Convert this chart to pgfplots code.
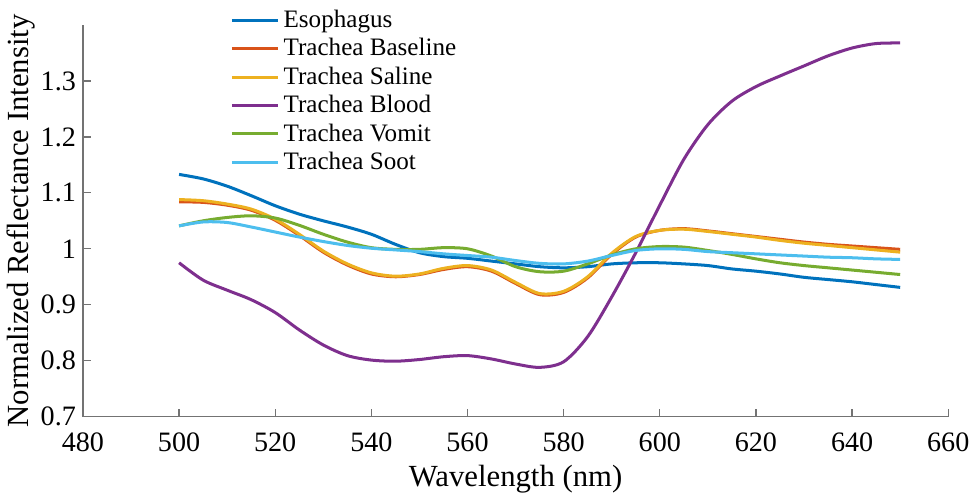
\documentclass[border=0pt]{standalone}
\usepackage{fontspec}
\setmainfont{Liberation Serif}
\usepackage{pgfplots}
\usepackage{pgfplotstable}
\pgfplotsset{compat=1.18}
\definecolor{mblue}{rgb}{0,0.447,0.741}
\definecolor{mred}{rgb}{0.85,0.325,0.098}
\definecolor{myellow}{rgb}{0.929,0.694,0.125}
\definecolor{mpurple}{rgb}{0.494,0.184,0.556}
\definecolor{mgreen}{rgb}{0.466,0.674,0.188}
\definecolor{mcyan}{rgb}{0.301,0.745,0.933}

% nm  Esophagus  Baseline  Saline  Blood  Vomit  Soot
\pgfplotstableread{
nm  E      B      S      P      V      C
500 1.133  1.084  1.088  0.975  1.041  1.041
505 1.125  1.083  1.086  0.944  1.050  1.048
510 1.112  1.078  1.080  0.926  1.056  1.047
515 1.095  1.069  1.071  0.909  1.059  1.039
520 1.077  1.051  1.053  0.886  1.055  1.030
525 1.062  1.024  1.026  0.855  1.042  1.021
530 1.050  0.994  0.996  0.828  1.026  1.013
535 1.039  0.971  0.973  0.809  1.012  1.006
540 1.026  0.955  0.957  0.801  1.002  1.001
545 1.008  0.950  0.951  0.799  0.999  0.998
550 0.993  0.954  0.955  0.802  0.999  0.995
555 0.986  0.963  0.965  0.807  1.002  0.991
560 0.983  0.968  0.970  0.809  1.000  0.988
565 0.978  0.960  0.962  0.803  0.987  0.985
570 0.973  0.938  0.940  0.794  0.968  0.979
575 0.968  0.918  0.920  0.788  0.959  0.974
580 0.966  0.922  0.924  0.798  0.960  0.973
585 0.968  0.948  0.950  0.843  0.973  0.978
590 0.973  0.990  0.992  0.914  0.989  0.988
595 0.975  1.021  1.022  0.993  1.000  0.997
600 0.975  1.033  1.033  1.078  1.004  1.000
605 0.973  1.036  1.035  1.160  1.003  0.999
610 0.970  1.032  1.031  1.222  0.997  0.995
615 0.964  1.027  1.026  1.264  0.990  0.993
620 0.960  1.022  1.021  1.290  0.982  0.991
625 0.955  1.017  1.015  1.309  0.975  0.989
630 0.949  1.012  1.010  1.327  0.970  0.987
635 0.945  1.008  1.006  1.345  0.966  0.985
640 0.941  1.005  1.002  1.359  0.962  0.984
645 0.936  1.002  0.998  1.367  0.958  0.982
650 0.931  0.999  0.994  1.368  0.954  0.981
}\spectra

\begin{document}
\begin{tikzpicture}
\begin{axis}[
  name=ax,
  scale only axis,
  width=431pt, height=195pt,
  xmin=480, xmax=660,
  ymin=0.7, ymax=1.4,
  xtick={480,500,...,660},
  ytick={0.7,0.8,0.9,1,1.1,1.2,1.3},
  yticklabels={0.7,0.8,0.9,1,1.1,1.2,1.3},
  axis x line=bottom, axis y line=left,
  axis line style={-, draw=black!55, line width=0.6pt},
  tick style={draw=black!55, line width=0.6pt},
  tick align=inside,
  major tick length=4pt,
  /pgf/number format/assume math mode=true,
  ticklabel style={font=\fontsize{14}{16}\selectfont},
  xticklabel style={yshift=-4.5pt},
  xlabel={Wavelength (nm)},
  ylabel={Normalized Reflectance Intensity},
  label style={font=\fontsize{15.3}{18}\selectfont},
  xlabel style={yshift=0pt},
  ylabel style={yshift=-4pt},
  legend style={draw=none, fill=none, at={(0.17,1.05)}, anchor=north west,
                font=\fontsize{12.5}{15.7}\selectfont, row sep=0pt,
                inner sep=0pt},
  legend cell align=left,
  legend image code/.code={\draw[#1] (0pt,0pt) -- (23pt,0pt);},
  every axis plot/.append style={line width=1.5pt, smooth},
]
\addplot[mblue]   table[x=nm, y=E] {\spectra};
\addplot[mred]    table[x=nm, y=B] {\spectra};
\addplot[myellow] table[x=nm, y=S] {\spectra};
\addplot[mpurple] table[x=nm, y=P] {\spectra};
\addplot[mgreen]  table[x=nm, y=V] {\spectra};
\addplot[mcyan]   table[x=nm, y=C] {\spectra};
\legend{Esophagus, Trachea Baseline, Trachea Saline, Trachea Blood, Trachea Vomit, Trachea Soot}
\end{axis}
% keep the white band above the plot as in the reference
\path (ax.north west) -- ++(0,12.5pt);
\end{tikzpicture}
\end{document}
